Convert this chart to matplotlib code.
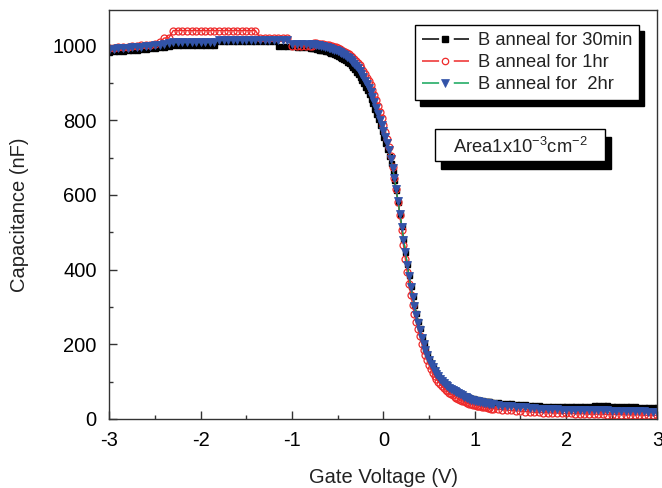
import numpy as np
import matplotlib
matplotlib.use("Agg")
import matplotlib.pyplot as plt
from matplotlib.patches import Rectangle
from matplotlib.lines import Line2D
from matplotlib.transforms import IdentityTransform
from matplotlib.ticker import MultipleLocator

plt.rcParams['font.family'] = ['Liberation Sans', 'DejaVu Sans']
plt.rcParams['mathtext.fontset'] = 'custom'
plt.rcParams['mathtext.rm'] = 'Liberation Sans'
plt.rcParams['mathtext.it'] = 'Liberation Sans:italic'

# ---------------- data ----------------
# gate-voltage sampling (V)
v_left = np.linspace(-3.0, -0.8, 45)
v_mid = np.linspace(-0.78, 1.2, 100)
v_right = np.linspace(1.25, 3.0, 36)

# B anneal for 30min (nF)
c30_left = [983, 984, 985, 986, 987, 988, 989, 990, 991, 992,
            994, 995, 997, 999, 1001, 1001, 1001, 1001, 1001, 1001,
            1001, 1001, 1001, 1001, 1012, 1012, 1012, 1012, 1012, 1012,
            1012, 1012, 1012, 1012, 1012, 1012, 1012, 999, 999, 999,
            998, 997, 996, 995, 994]
c30_mid = [993, 992, 991, 990, 989, 988, 987, 986, 985, 983,
           981, 979, 977, 975, 973, 970, 967, 964, 960, 956,
           952, 947, 942, 936, 930, 923, 916, 908, 899, 890,
           880, 869, 857, 845, 831, 817, 802, 787, 771, 756,
           740, 723, 705, 685, 663, 639, 612, 582, 550, 516,
           482, 448, 415, 385, 356, 330, 306, 284, 263, 244,
           220, 203, 188, 174, 161, 150, 140, 131, 123, 116,
           110, 104, 99, 94, 90, 86, 83, 80, 77, 74,
           71, 68, 66, 63, 61, 59, 58, 56, 55, 54,
           53, 52, 51, 50, 49, 48, 47, 47, 46, 46]
c30_right = [45, 44, 43, 42, 41, 40, 39, 38, 37, 37, 36, 36, 35, 35, 35,
             35, 35, 35, 36, 36, 36, 37, 37, 37, 37, 36, 36, 35, 35, 34,
             34, 33, 33, 32, 32, 31]

# B anneal for 1hr (nF)
c1h_left = [993, 994, 995, 996, 997, 998, 999, 1000, 1001, 1002,
            1004, 1008, 1020, 1020, 1040, 1040, 1040, 1040, 1040, 1040,
            1040, 1040, 1040, 1040, 1040, 1040, 1040, 1040, 1040, 1040,
            1040, 1040, 1040, 1020, 1020, 1020, 1020, 1020, 1020, 1020,
            999, 999, 999, 999, 999]
c1h_mid = [999, 1006, 1006, 1005, 1004, 1004, 1003, 1002, 1001, 1000,
           999, 998, 996, 995, 993, 991, 989, 986, 983, 980,
           977, 973, 969, 964, 959, 953, 947, 940, 932, 923,
           914, 904, 893, 881, 868, 854, 839, 823, 806, 788,
           769, 749, 727, 703, 676, 646, 615, 582, 545, 505,
           465, 428, 393, 361, 332, 306, 282, 260, 240, 221,
           202, 186, 171, 157, 145, 134, 124, 115, 107, 100,
           94, 88, 83, 78, 74, 70, 66, 63, 60, 57,
           54, 51, 49, 47, 45, 43, 41, 40, 38, 37,
           36, 35, 34, 33, 32, 31, 30, 29, 28, 28]
c1h_right = [26, 25, 24, 23, 22, 21, 20, 19, 18, 18, 17, 17, 16, 16, 15,
             15, 15, 14, 14, 14, 13, 13, 13, 13, 12, 12, 12, 12, 11, 11,
             11, 11, 10, 10, 10, 10]

# B anneal for 2hr (nF)
c2h_left = [989, 990, 992, 993, 994, 995, 996, 997, 998, 999,
            1000, 1002, 1004, 1006, 1008, 1008, 1008, 1008, 1008, 1008,
            1008, 1008, 1008, 1008, 1015, 1015, 1015, 1015, 1015, 1015,
            1015, 1015, 1015, 1015, 1015, 1015, 1015, 1015, 1015, 1015,
            1003, 1003, 1003, 1003, 1002]
c2h_mid = [1003, 1003, 1002, 1001, 1000, 999, 998, 997, 996, 994,
           992, 991, 989, 987, 985, 983, 980, 977, 974, 970,
           966, 961, 956, 951, 945, 939, 932, 924, 915, 906,
           896, 886, 875, 862, 848, 833, 817, 801, 786, 771,
           755, 738, 719, 697, 673, 646, 616, 584, 550, 515,
           480, 446, 413, 382, 353, 327, 302, 279, 257, 237,
           218, 201, 186, 172, 159, 148, 138, 129, 121, 114,
           108, 102, 97, 92, 88, 84, 81, 78, 75, 72,
           69, 66, 63, 60, 58, 56, 54, 52, 51, 49,
           48, 47, 46, 45, 44, 43, 42, 41, 40, 40]
c2h_right = [38, 36, 35, 34, 33, 32, 31, 30, 29, 28, 27, 27, 26, 26, 25,
             25, 25, 24, 24, 24, 24, 23, 23, 23, 23, 22, 22, 22, 22, 21,
             21, 21, 21, 20, 20, 20]

labels = ["B anneal for 30min", "B anneal for 1hr", "B anneal for  2hr"]
xticks = [-3, -2, -1, 0, 1, 2, 3]
yticks = [0, 200, 400, 600, 800, 1000]

V = np.concatenate([v_left, v_mid, v_right])
C30 = np.array(c30_left + c30_mid + c30_right, dtype=float)
C1h = np.array(c1h_left + c1h_mid + c1h_right, dtype=float)
C2h = np.array(c2h_left + c2h_mid + c2h_right, dtype=float)

# ---------------- figure ----------------
fig = plt.figure(figsize=(6.62, 4.88), dpi=100)
ax = fig.add_axes([0.1651, 0.1414, 0.9932 - 0.1651, 0.9795 - 0.1414])

BLUE = '#3253A8'
RED = '#EE2A2A'
GREEN = '#12A55A'

ax.plot(V, C30, color='black', lw=1.0, marker='s', ms=3.6,
        mfc='black', mec='black', zorder=2)
ax.plot(V, C1h, color=RED, lw=1.0, marker='o', ms=5.0,
        mfc='none', mec=RED, mew=0.9, zorder=2.1)
ax.plot(V, C2h, color=GREEN, lw=1.0, marker='v', ms=6.2,
        mfc=BLUE, mec=BLUE, mew=0.6, zorder=2.2)

ax.set_xlim(-3, 3)
ax.set_ylim(0, 1095)
ax.set_xticks(xticks)
ax.set_xticklabels([str(t) for t in xticks])
ax.set_yticks(yticks)
ax.xaxis.set_minor_locator(MultipleLocator(0.5))
ax.yaxis.set_minor_locator(MultipleLocator(100))
ax.tick_params(which='both', direction='in', top=False, right=False,
               labelsize=14.5, width=1.0, color='#333333')
ax.tick_params(which='major', length=6, pad=9)
ax.tick_params(which='minor', length=3)
for s in ax.spines.values():
    s.set_linewidth(1.0)
    s.set_color('#333333')

ax.set_xlabel("Gate Voltage (V)", fontsize=14.5, color='#222222')
ax.set_ylabel("Capacitance (nF)", fontsize=14.5, color='#222222')
ax.xaxis.set_label_coords(0.5, -0.142)
ax.xaxis.label.set_va('center')
ax.yaxis.set_label_coords(-0.163, 0.5)
ax.yaxis.label.set_va('center')

# legend proxies: line - gap - marker - gap - line
dash = (0, (11.2, 9.6))
h1 = Line2D([], [], color='black', lw=1.1, ls=dash, marker='s', ms=3.8,
            mfc='black', mec='black')
h2 = Line2D([], [], color=RED, lw=1.1, ls=dash, marker='o', ms=4.6,
            mfc='none', mec=RED, mew=0.9)
h3 = Line2D([], [], color=GREEN, lw=1.1, ls=dash, marker='v', ms=5.6,
            mfc=BLUE, mec=BLUE, mew=0.5)

leg = ax.legend(handles=[h1, h2, h3], labels=labels, loc='upper left',
                bbox_to_anchor=(0.5577, 0.963), borderaxespad=0,
                fontsize=13.2, handlelength=2.55, handletextpad=0.5,
                borderpad=0.38, labelspacing=0.28, fancybox=False,
                framealpha=1, edgecolor='black', numpoints=1)
leg.get_frame().set_linewidth(1.0)
leg.set_zorder(6)
for t in leg.get_texts():
    t.set_color('#222222')

# annotation box with drop shadow (axes coordinates)
bx0, bx1, by0, by1 = 0.594, 0.904, 0.631, 0.709
dxs, dys = 6 / 548.2, 8 / 409.0
ax.add_patch(Rectangle((bx0 + dxs, by0 - dys), bx1 - bx0, by1 - by0,
                       transform=ax.transAxes, facecolor='black',
                       edgecolor='black', zorder=5))
ax.add_patch(Rectangle((bx0, by0), bx1 - bx0, by1 - by0,
                       transform=ax.transAxes, facecolor='white',
                       edgecolor='black', lw=1.0, zorder=5.1))
ax.text((bx0 + bx1) / 2, (by0 + by1) / 2 - 0.004,
        r"Area1x10$^{-3}$cm$^{-2}$", transform=ax.transAxes,
        ha='center', va='center', fontsize=13.2, color='#222222', zorder=5.2)

# legend drop shadow in display coordinates
fig.canvas.draw()
r = fig.canvas.get_renderer()
bb = leg.get_frame().get_window_extent(r)
ax.add_patch(Rectangle((bb.x0 + 5, bb.y0 - 6), bb.width, bb.height,
                       transform=IdentityTransform(), facecolor='black',
                       edgecolor='black', zorder=5.9))

fig.savefig("out.png", dpi=100)
